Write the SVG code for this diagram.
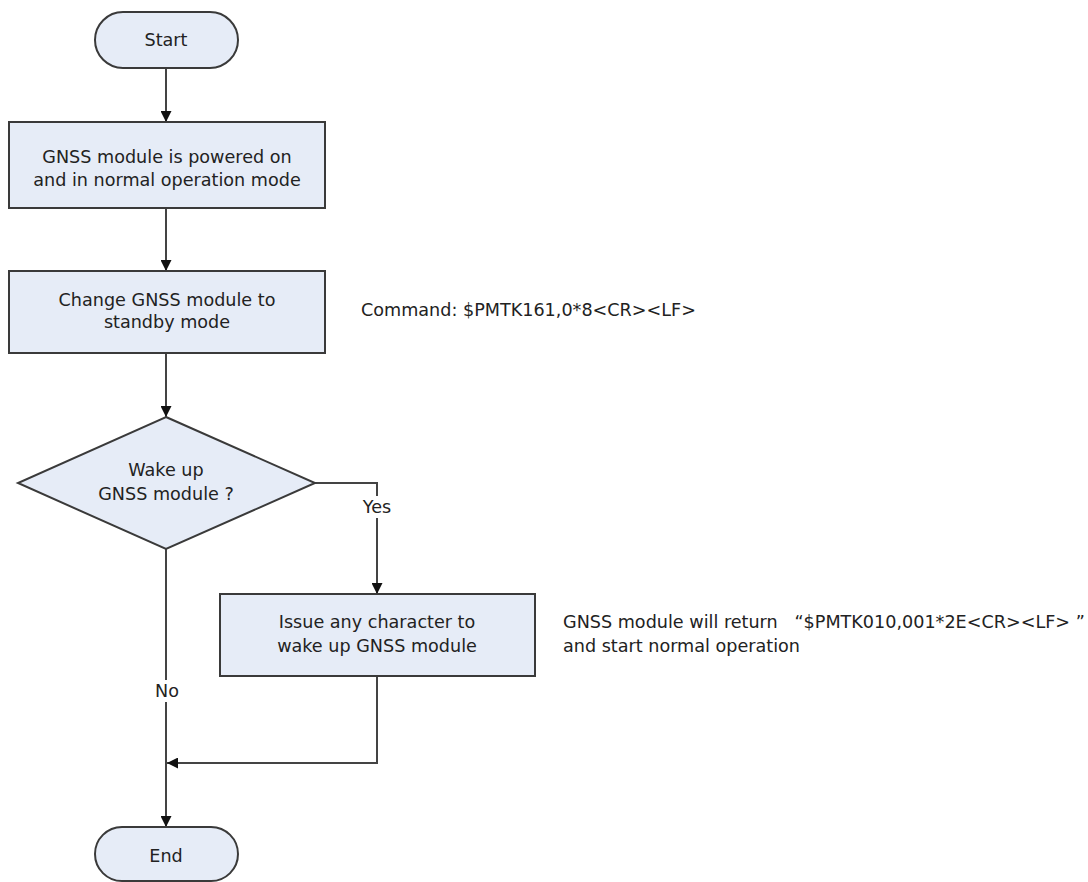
<svg xmlns="http://www.w3.org/2000/svg" width="1088" height="882" viewBox="0 0 1088 882">
<style>
.n{fill:#E6ECF7;stroke:#3a3a3a;stroke-width:2}
.t{font-family:"DejaVu Sans","Verdana",sans-serif;font-size:17.6px;fill:#222;white-space:pre}
.c{text-anchor:middle}
.e{fill:none;stroke:#444;stroke-width:2}
</style>
<defs>
<marker id="a" viewBox="0 0 10 10" refX="10" refY="5" markerWidth="11" markerHeight="11" markerUnits="userSpaceOnUse" orient="auto">
<path d="M0,0 L10,5 L0,10 z" fill="#111"/>
</marker>
</defs>
<rect width="1088" height="882" fill="#fff"/>
<g id="connectors">
<line class="e" x1="166" y1="68" x2="166" y2="122" marker-end="url(#a)"/>
<line class="e" x1="166" y1="208" x2="166" y2="271" marker-end="url(#a)"/>
<line class="e" x1="166" y1="353" x2="166" y2="417" marker-end="url(#a)"/>
<polyline class="e" points="315,483 377,483 377,594" marker-end="url(#a)"/>
<line class="e" x1="166" y1="549" x2="166" y2="827" marker-end="url(#a)"/>
<polyline class="e" points="377,676 377,763 167,763" marker-end="url(#a)"/>
<rect x="356" y="496" width="42" height="22" fill="#fff"/>
<text class="t c" x="377" y="513">Yes</text>
<rect x="151" y="680" width="32" height="22" fill="#fff"/>
<text class="t c" x="167" y="697">No</text>
</g>
<g id="start">
<rect class="n" x="95" y="12" width="143" height="56" rx="28"/>
<text class="t c" x="166" y="46">Start</text>
</g>
<g id="powered">
<rect class="n" x="9" y="122" width="316" height="86"/>
<text class="t c" x="167" y="163">GNSS module is powered on</text>
<text class="t c" x="167" y="186">and in normal operation mode</text>
</g>
<g id="standby">
<rect class="n" x="9" y="271" width="316" height="82"/>
<text class="t c" x="167" y="306">Change GNSS module to</text>
<text class="t c" x="167" y="328">standby mode</text>
</g>
<g id="decision">
<polygon class="n" points="166,417 315,483 166,549 18,483"/>
<text class="t c" x="166" y="476">Wake up</text>
<text class="t c" x="166" y="500">GNSS module ?</text>
</g>
<g id="wake">
<rect class="n" x="220" y="594" width="315" height="82"/>
<text class="t c" x="377" y="628">Issue any character to</text>
<text class="t c" x="377" y="652">wake up GNSS module</text>
</g>
<g id="end">
<rect class="n" x="95" y="827" width="143" height="54" rx="27"/>
<text class="t c" x="166" y="862">End</text>
</g>
<g id="notes">
<text class="t" x="361" y="316">Command: $PMTK161,0*8&lt;CR&gt;&lt;LF&gt;</text>
<text class="t" x="563" y="628" xml:space="preserve">GNSS module will return   “$PMTK010,001*2E&lt;CR&gt;&lt;LF&gt; ”</text>
<text class="t" x="563" y="652">and start normal operation</text>
</g>
</svg>
